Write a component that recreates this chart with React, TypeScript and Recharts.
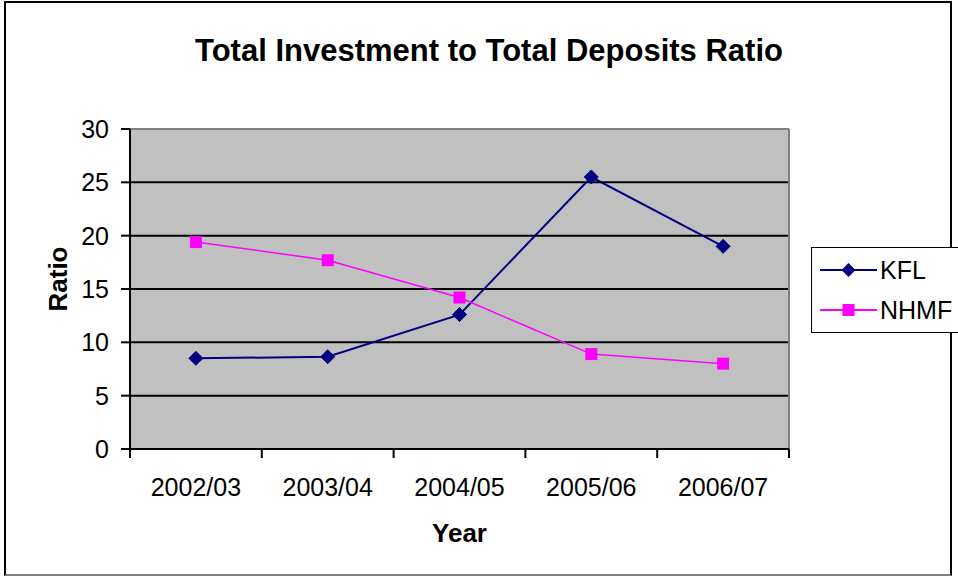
import React from 'react';
import {
  LineChart,
  Line,
  XAxis,
  YAxis,
  ReferenceArea,
  ReferenceLine,
} from 'recharts';

const categories = ['2002/03', '2003/04', '2004/05', '2005/06', '2006/07'];
const kflValues = [8.5, 8.65, 12.6, 25.5, 19.0];
const nhmfValues = [19.4, 17.7, 14.2, 8.9, 8.0];
const yTicks = [0, 5, 10, 15, 20, 25, 30];
const gridValues = [5, 10, 15, 20, 25];
const seriesNames = ['KFL', 'NHMF'];

const KFL_COLOR = '#000080';
const NHMF_COLOR = '#FF00FF';
const FONT = '"Liberation Sans", Arial, sans-serif';

// each category sits in the middle of its band, ticks go on the band edges
const data = categories.map((year, i) => ({
  pos: i + 0.5,
  year,
  KFL: kflValues[i],
  NHMF: nhmfValues[i],
}));
const bandEdges = categories.map((_, i) => i).concat(categories.length);
const bandCenters = data.map(d => d.pos);

const Diamond = (props: any) => {
  const { cx, cy, index } = props;
  if (cx == null || cy == null) return <g key={index} />;
  const r = 7;
  return (
    <path
      key={index}
      d={`M${cx},${cy - r}L${cx + r},${cy}L${cx},${cy + r}L${cx - r},${cy}Z`}
      fill={KFL_COLOR}
      stroke={KFL_COLOR}
    />
  );
};

const Square = (props: any) => {
  const { cx, cy, index } = props;
  if (cx == null || cy == null) return <g key={index} />;
  const r = 6;
  return <rect key={index} x={cx - r} y={cy - r} width={r * 2} height={r * 2} fill={NHMF_COLOR} />;
};

const LegendBox = () => (
  <div
    style={{
      position: 'absolute',
      left: 811,
      top: 247,
      width: 160,
      border: '1.5px solid #000',
      background: '#fff',
      padding: '2px 0',
      fontSize: 25,
      color: '#000',
    }}
  >
    {seriesNames.map(name => {
      const color = name === 'KFL' ? KFL_COLOR : NHMF_COLOR;
      return (
        <div key={name} style={{ display: 'flex', alignItems: 'center', height: 40, paddingLeft: 8 }}>
          <svg width={57} height={40}>
            <line x1={0} x2={57} y1={20} y2={20} stroke={color} strokeWidth={2} />
            {name === 'KFL' ? (
              <path d="M28.5,13L35.5,20L28.5,27L21.5,20Z" fill={color} />
            ) : (
              <rect x={22.5} y={14} width={12} height={12} fill={color} />
            )}
          </svg>
          <span style={{ marginLeft: 3, lineHeight: 1 }}>{name}</span>
        </div>
      );
    })}
  </div>
);

export default function App() {
  return (
    <div
      style={{
        position: 'absolute',
        left: 0,
        top: 0,
        width: 958,
        height: 578,
        overflow: 'hidden',
        background: '#fff',
        fontFamily: FONT,
      }}
    >
      <div
        style={{
          position: 'absolute',
          left: 4,
          top: 1,
          width: 948,
          height: 575,
          borderTop: '2px solid #000',
          borderLeft: '2px solid #000',
          borderRight: '2px solid #000',
          borderBottom: '2px solid #808080',
          boxSizing: 'border-box',
        }}
      />
      <div
        style={{
          position: 'absolute',
          left: 489,
          top: 35,
          transform: 'translateX(-50%)',
          whiteSpace: 'nowrap',
          fontSize: 31,
          lineHeight: 1,
          fontWeight: 'bold',
          color: '#000',
        }}
      >
        Total Investment to Total Deposits Ratio
      </div>
      <LineChart
        width={958}
        height={578}
        data={data}
        margin={{ top: 129, right: 169, bottom: 20, left: 0 }}
        style={{ position: 'absolute', left: 0, top: 0 }}
      >
        <XAxis
          xAxisId="axisA"
          dataKey="pos"
          type="number"
          domain={[0, categories.length]}
          ticks={bandEdges}
          tickFormatter={() => ''}
          height={9}
          tickSize={9}
          axisLine={{ stroke: '#000', strokeWidth: 2 }}
          tickLine={{ stroke: '#000', strokeWidth: 2 }}
        />
        <XAxis
          xAxisId="axisB"
          dataKey="pos"
          type="number"
          domain={[0, categories.length]}
          ticks={bandCenters}
          tickFormatter={(v: number) => categories[Math.floor(v)]}
          height={100}
          tickSize={0}
          tickMargin={20}
          axisLine={false}
          tickLine={false}
          tick={{ fill: '#000', fontSize: 25, fontFamily: FONT }}
          label={{
            content: ({ viewBox }: any) => (
              <text
                x={viewBox.x + viewBox.width / 2}
                y={viewBox.y + 84}
                textAnchor="middle"
                fontSize={26}
                fontWeight="bold"
                fontFamily={FONT}
                fill="#000"
              >
                Year
              </text>
            ),
          }}
        />
        <YAxis
          domain={[0, 30]}
          ticks={yTicks}
          width={130}
          tickSize={9}
          tickMargin={12}
          interval={0}
          axisLine={{ stroke: '#000', strokeWidth: 2 }}
          tickLine={{ stroke: '#000', strokeWidth: 2 }}
          tick={{ fill: '#000', fontSize: 25, fontFamily: FONT }}
          label={{
            content: ({ viewBox }: any) => {
              const x = viewBox.x + 58;
              const y = viewBox.y + viewBox.height / 2 - 10;
              return (
                <text
                  x={x}
                  y={y}
                  transform={`rotate(-90 ${x} ${y})`}
                  textAnchor="middle"
                  dominantBaseline="central"
                  fontSize={26}
                  fontWeight="bold"
                  fontFamily={FONT}
                  fill="#000"
                >
                  Ratio
                </text>
              );
            },
          }}
        />
        <ReferenceArea xAxisId="axisB" y1={0} y2={30} fill="#C0C0C0" fillOpacity={1} stroke="none" />
        {gridValues.map(v => (
          <ReferenceLine key={v} xAxisId="axisB" y={v} stroke="#000" strokeWidth={2} />
        ))}
        <ReferenceLine xAxisId="axisB" y={30} stroke="#808080" strokeWidth={2} />
        <ReferenceLine xAxisId="axisB" x={categories.length} stroke="#808080" strokeWidth={2} />
        <Line
          xAxisId="axisB"
          dataKey="KFL"
          name="KFL"
          stroke={KFL_COLOR}
          strokeWidth={2}
          dot={Diamond}
          activeDot={false}
          isAnimationActive={false}
        />
        <Line
          xAxisId="axisB"
          dataKey="NHMF"
          name="NHMF"
          stroke={NHMF_COLOR}
          strokeWidth={1.5}
          dot={Square}
          activeDot={false}
          isAnimationActive={false}
        />
      </LineChart>
      <LegendBox />
    </div>
  );
}
